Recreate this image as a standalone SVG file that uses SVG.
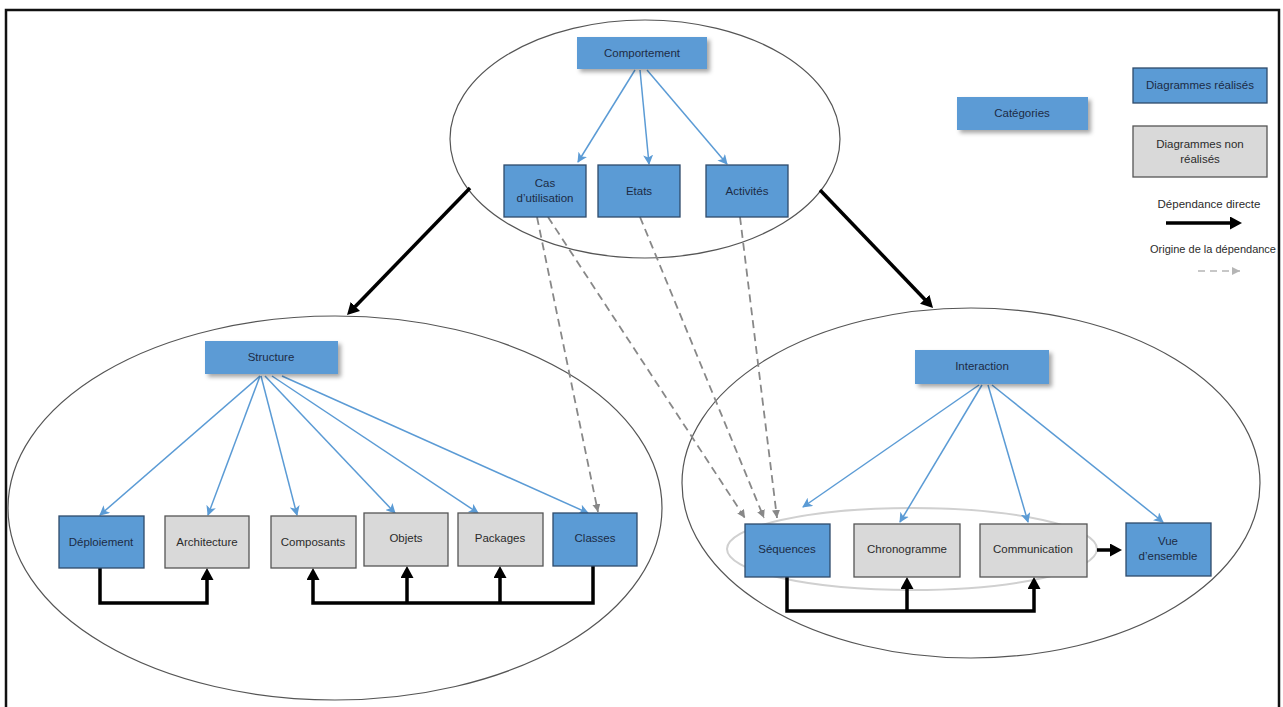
<svg xmlns="http://www.w3.org/2000/svg" width="1283" height="707" viewBox="0 0 1283 707">
<style>
  .frame{fill:none;stroke:#111;stroke-width:2.5}
  .ell{fill:none;stroke:#555;stroke-width:1.2}
  .cat{fill:#5b9bd5;filter:url(#sh)}
  .done{fill:#5b9bd5;stroke:#2f4b6b;stroke-width:1.3}
  .todo{fill:#d9d9d9;stroke:#555;stroke-width:1.3}
  text{font-family:"Liberation Sans",Arial,sans-serif;font-size:11.5px;text-anchor:middle}
  .tb{fill:#1c2b45}
  .tg{fill:#2b2b2b}
  .blue{fill:none;stroke:#5b9bd5;stroke-width:1.5;marker-end:url(#mb)}
  .blk{fill:none;stroke:#000;stroke-width:3.5;marker-end:url(#mk)}
  .dash{fill:none;stroke:#888;stroke-width:1.8;stroke-dasharray:8 5;marker-end:url(#mg)}
</style>
<defs>
  <filter id="sh" x="-20%" y="-30%" width="150%" height="180%">
    <feDropShadow dx="3" dy="3" stdDeviation="2" flood-color="#000" flood-opacity="0.35"/>
  </filter>
  <marker id="mb" markerUnits="userSpaceOnUse" markerWidth="10" markerHeight="10" refX="9" refY="5" orient="auto">
    <path d="M0,0 L10,5 L0,10 L2.5,5 z" fill="#5b9bd5"/>
  </marker>
  <marker id="mk" markerUnits="userSpaceOnUse" markerWidth="14" markerHeight="14" refX="4" refY="6.5" orient="auto">
    <path d="M0,0 L12,6.5 L0,13 z" fill="#000"/>
  </marker>
  <marker id="mg" markerUnits="userSpaceOnUse" markerWidth="10" markerHeight="10" refX="8" refY="4" orient="auto">
    <path d="M0,0 L8,4 L0,8 z" fill="#888"/>
  </marker>
  <marker id="mgl" markerUnits="userSpaceOnUse" markerWidth="10" markerHeight="10" refX="8" refY="4" orient="auto">
    <path d="M0,0 L8,4 L0,8 z" fill="#b5b5b5"/>
  </marker>
</defs>
<rect width="1283" height="707" fill="#fff"/>
<rect class="frame" x="6" y="10" width="1273" height="720"/>

<g id="ellipses">
  <ellipse class="ell" cx="645" cy="139" rx="195" ry="119"/>
  <ellipse class="ell" cx="335" cy="508" rx="327" ry="192"/>
  <ellipse class="ell" cx="971" cy="483" rx="289" ry="175"/>
  <ellipse cx="912" cy="549" rx="185" ry="41" fill="none" stroke="#d0d0d0" stroke-width="2"/>
</g>

<g id="connectors">
  <path class="blue" d="M635,70 L578,162"/>
  <path class="blue" d="M640,70 L649,164"/>
  <path class="blue" d="M647,70 L727,164"/>
  <path class="blue" d="M260,376 L100,515"/>
  <path class="blue" d="M260,376 L208,515"/>
  <path class="blue" d="M261,376 L297,515"/>
  <path class="blue" d="M265,376 L395,513"/>
  <path class="blue" d="M272,376 L478,513"/>
  <path class="blue" d="M282,376 L588,513"/>
  <path class="blue" d="M979,385 L803,507"/>
  <path class="blue" d="M982,385 L900,522"/>
  <path class="blue" d="M988,385 L1028,522"/>
  <path class="blue" d="M992,385 L1163,522"/>
  <path class="blk" d="M470,188 L352.6,309.3"/>
  <path class="blk" d="M820,190 L927.5,302.2"/>
  <path class="blk" d="M100,568 V603 H207 V576"/>
  <path class="blk" d="M593,566 V603 H313 V576"/>
  <path class="blk" d="M407,603 V574"/>
  <path class="blk" d="M500,603 V574"/>
  <path class="blk" d="M787,577 V611 H1034 V585"/>
  <path class="blk" d="M907,611 V585"/>
  <path class="blk" d="M1097,550 H1114"/>
  <path class="dash" d="M537,217 L598,512"/>
  <path class="dash" d="M548,217 L745,518"/>
  <path class="dash" d="M640,217 L764,518"/>
  <path class="dash" d="M740,217 L777,518"/>
</g>

<g id="comportement"><rect class="cat" x="577" y="37" width="130" height="32"/><text class="tb" x="642" y="57">Comportement</text></g>
<g id="cas"><rect class="done" x="504" y="165" width="82" height="52"/><text class="tb" x="545" y="187">Cas</text><text class="tb" x="545" y="202">d’utilisation</text></g>
<g id="etats"><rect class="done" x="598" y="165" width="82" height="52"/><text class="tb" x="639" y="195">Etats</text></g>
<g id="activites"><rect class="done" x="706" y="165" width="82" height="52"/><text class="tb" x="747" y="195">Activités</text></g>

<g id="structure"><rect class="cat" x="205" y="341" width="133" height="33"/><text class="tb" x="271" y="361">Structure</text></g>
<g id="deploiement"><rect class="done" x="59" y="516" width="85" height="52"/><text class="tb" x="101" y="546">Déploiement</text></g>
<g id="architecture"><rect class="todo" x="165" y="516" width="84" height="52"/><text class="tg" x="207" y="546">Architecture</text></g>
<g id="composants"><rect class="todo" x="271" y="516" width="85" height="52"/><text class="tg" x="313" y="546">Composants</text></g>
<g id="objets"><rect class="todo" x="364" y="513" width="84" height="53"/><text class="tg" x="406" y="542">Objets</text></g>
<g id="packages"><rect class="todo" x="458" y="513" width="85" height="53"/><text class="tg" x="500" y="542">Packages</text></g>
<g id="classes"><rect class="done" x="553" y="513" width="84" height="53"/><text class="tb" x="595" y="542">Classes</text></g>

<g id="interaction"><rect class="cat" x="915" y="350" width="134" height="34"/><text class="tb" x="982" y="370">Interaction</text></g>
<g id="sequences"><rect class="done" x="745" y="524" width="85" height="53"/><text class="tb" x="787" y="553">Séquences</text></g>
<g id="chronogramme"><rect class="todo" x="854" y="524" width="106" height="53"/><text class="tg" x="907" y="553">Chronogramme</text></g>
<g id="communication"><rect class="todo" x="980" y="524" width="107" height="53"/><text class="tg" x="1033" y="553">Communication</text></g>
<g id="vue"><rect class="done" x="1126" y="523" width="85" height="53"/><text class="tb" x="1168" y="545">Vue</text><text class="tb" x="1168" y="560">d’ensemble</text></g>

<g id="legend">
  <g id="categories"><rect class="cat" x="957" y="97" width="131" height="33"/><text class="tb" x="1022" y="117">Catégories</text></g>
  <g id="realises"><rect class="done" x="1133" y="68" width="134" height="35"/><text class="tb" x="1200" y="89">Diagrammes réalisés</text></g>
  <g id="nonrealises"><rect class="todo" x="1133" y="126" width="134" height="51"/><text class="tg" x="1200" y="148">Diagrammes non</text><text class="tg" x="1200" y="163">réalisés</text></g>
  <text class="tg" x="1209" y="208">Dépendance directe</text>
  <path class="blk" d="M1166,223 H1234"/>
  <text class="tg" x="1213" y="253" style="font-size:11px">Origine de la dépendance</text>
  <path d="M1198,271 H1240" fill="none" stroke="#b5b5b5" stroke-width="1.6" stroke-dasharray="7 5" marker-end="url(#mgl)"/>
</g>
</svg>
